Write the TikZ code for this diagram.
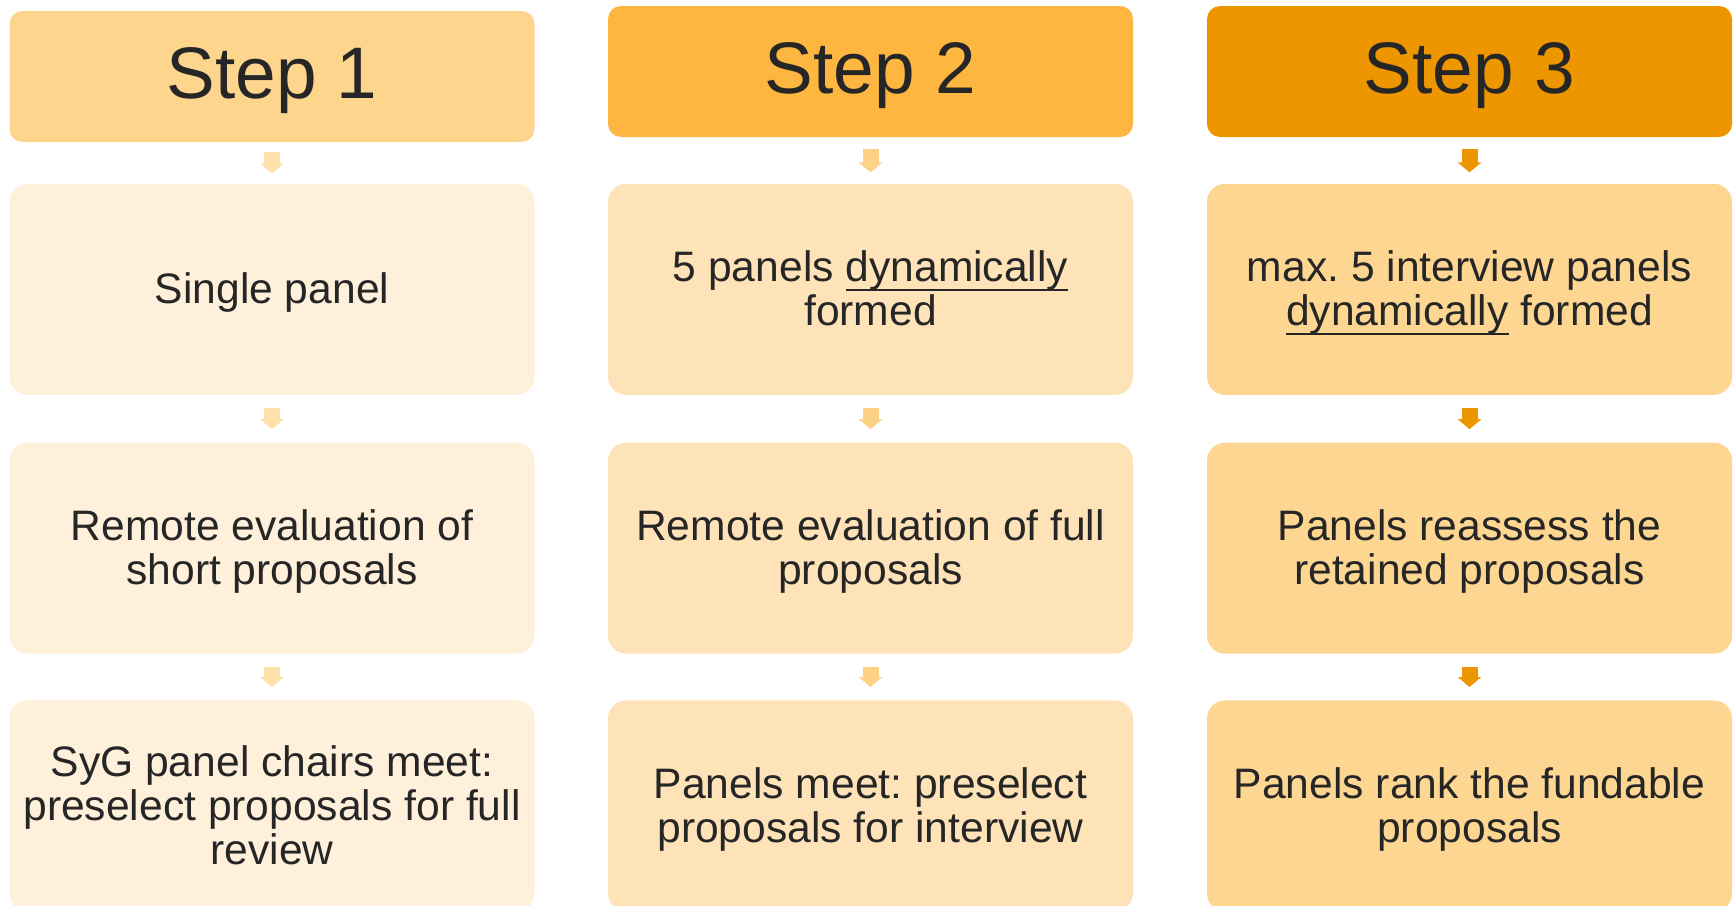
\documentclass[tikz,border=0pt]{standalone}
\usepackage{fontspec}
\setmainfont{Liberation Sans}
\usetikzlibrary{positioning}
\usetikzlibrary{arrows.meta}

\definecolor{txt}{RGB}{38,38,38}
\definecolor{hdrA}{RGB}{253,213,141}
\definecolor{hdrB}{RGB}{253,183,64}
\definecolor{hdrC}{RGB}{237,150,0}
\definecolor{boxA}{RGB}{254,240,218}
\definecolor{boxB}{RGB}{254,227,184}
\definecolor{boxC}{RGB}{253,215,146}
\definecolor{arrA}{RGB}{255,224,170}
\definecolor{arrB}{RGB}{253,210,135}

\newsavebox\ulbox
\newcommand\undl[1]{\sbox\ulbox{#1}\rlap{\rule[-4.5pt]{\wd\ulbox}{1pt}}\usebox\ulbox}
\frenchspacing

\begin{document}
\begin{tikzpicture}[x=0.5pt,y=-0.5pt]
				\tikzstyle{hdr}=[rectangle,rounded corners=6.5pt,minimum width=262.5pt,minimum height=65.5pt,inner sep=0pt,text=txt,font=\fontsize{36.5}{40}\selectfont,execute at begin node=\rule{0pt}{30pt}]
				\tikzstyle{stage}=[rectangle,rounded corners=9pt,minimum width=262.5pt,minimum height=105.5pt,inner sep=0pt,align=center,text=txt,font=\fontsize{21.3}{22}\selectfont,text depth=1pt]
				\tikzstyle{flow}=[line width=8pt,-{Triangle[width=11.5pt,length=5pt]},shorten <=6.5pt,shorten >=6.5pt]
				\useasboundingbox (0,0) rectangle (1733,905);
				\clip (0,0) rectangle (1733,905);
				% step 1
				\node[hdr,fill=hdrA] (h1) at (272,76.5) {Step 1};
				\node[stage,fill=boxA,below=20.5pt of h1] (s11) {Single panel};
				\node[stage,fill=boxA,below=23.5pt of s11] (s12) {Remote evaluation of\\short proposals};
				\node[stage,fill=boxA,below=23pt of s12] (s13) {SyG panel chairs meet:\\preselect proposals for full\\review};
				% step 2
				\node[hdr,fill=hdrB] (h2) at (870.5,71.5) {Step 2};
				\node[stage,fill=boxB,below=23pt of h2] (s21) {5 panels \undl{dynamically}\\formed};
				\node[stage,fill=boxB,below=23.5pt of s21] (s22) {Remote evaluation of full\\proposals};
				\node[stage,fill=boxB,below=23pt of s22] (s23) {Panels meet: preselect\\proposals for interview};
				% step 3
				\node[hdr,fill=hdrC] (h3) at (1469.5,71.5) {Step 3};
				\node[stage,fill=boxC,below=23pt of h3] (s31) {max. 5 interview panels\\\undl{dynamically} formed};
				\node[stage,fill=boxC,below=23.5pt of s31] (s32) {Panels reassess the\\retained proposals};
				\node[stage,fill=boxC,below=23pt of s32] (s33) {Panels rank the fundable\\proposals};
				% arrows
				\draw[flow,draw=arrA,shorten <=5pt,shorten >=5pt] (h1) -- (s11);
				\draw[flow,draw=arrA] (s11) -- (s12);
				\draw[flow,draw=arrA] (s12) -- (s13);
				\draw[flow,draw=arrB,shorten <=6pt,shorten >=5.5pt] (h2) -- (s21);
				\draw[flow,draw=arrB] (s21) -- (s22);
				\draw[flow,draw=arrB] (s22) -- (s23);
				\draw[flow,draw=hdrC,shorten <=6pt,shorten >=5.5pt] (h3) -- (s31);
				\draw[flow,draw=hdrC] (s31) -- (s32);
				\draw[flow,draw=hdrC] (s32) -- (s33);
\end{tikzpicture}
\end{document}
